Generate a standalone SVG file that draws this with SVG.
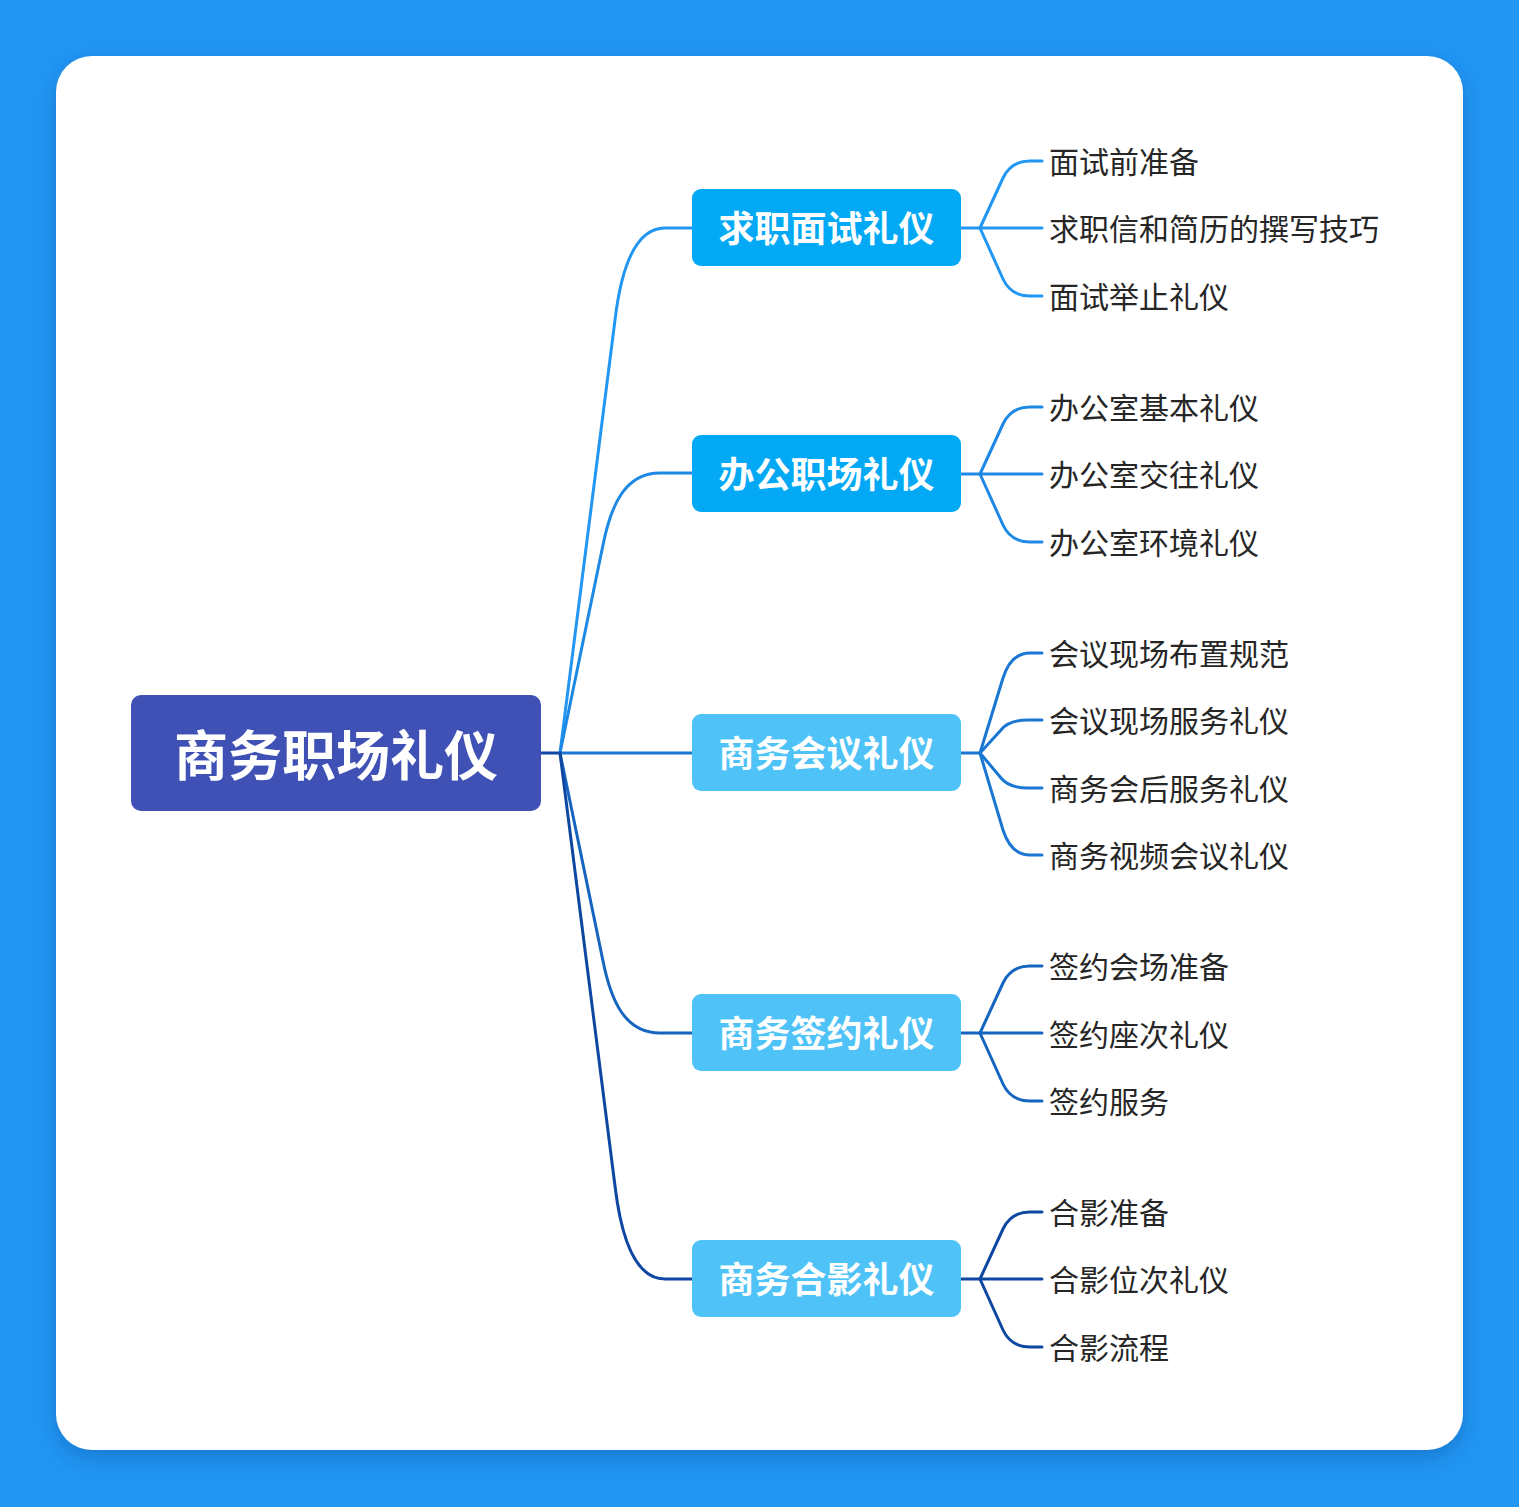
<svg xmlns="http://www.w3.org/2000/svg" width="1519" height="1507" viewBox="0 0 1519 1507">
<defs>
<filter id="sh" x="-5%" y="-5%" width="110%" height="112%">
<feDropShadow dx="0" dy="8" stdDeviation="10" flood-color="#0a3a80" flood-opacity="0.3"/>
</filter>
<style>
.root{fill:#3F51B5}
.b1{fill:#03A9F4}
.b2{fill:#4FC3F7}
.rt{font-family:"Noto Sans CJK SC","Liberation Sans",sans-serif;font-weight:bold;font-size:54px;fill:#fff;text-anchor:middle}
.bt{font-family:"Noto Sans CJK SC","Liberation Sans",sans-serif;font-weight:bold;font-size:36px;fill:#fff;text-anchor:middle}
.lt{font-family:"Noto Sans CJK SC","Liberation Sans",sans-serif;font-size:30px;fill:#262626}
.c{fill:none;stroke-width:3;stroke-linecap:round}
.k1{stroke:#2196F3}.k2{stroke:#1E88E5}.k3{stroke:#1976D2}.k4{stroke:#1565C0}.k5{stroke:#0D47A1}
</style>
</defs>
<rect width="1519" height="1507" fill="#2196F3"/>
<rect x="56" y="56" width="1407" height="1394" rx="36" fill="#fff" filter="url(#sh)"/>
<g id="connectors">
<path class="c k5" d="M541,753 L560,753"/>
<path class="c k1" d="M560,753 L615,320 C620,278 632,228 665,228 L692,228"/>
<path class="c k2" d="M560,753 L603,545 C611,505 625,473 660,473 L692,473"/>
<path class="c k3" d="M560,753 L692,753"/>
<path class="c k4" d="M560,753 L603,961 C611,1001 625,1033 660,1033 L692,1033"/>
<path class="c k5" d="M560,753 L615,1186 C620,1228 632,1279 665,1279 L692,1279"/>
<g class="c k1">
<path d="M961,228 L980,228"/>
<path d="M980,228 L1003,178 Q1011,161 1030,161 L1042,161"/>
<path d="M980,228 L1042,228"/>
<path d="M980,228 L1003,279 Q1011,296 1030,296 L1042,296"/>
</g>
<g class="c k2">
<path d="M961,474 L980,474"/>
<path d="M980,474 L1003,424 Q1011,407 1030,407 L1042,407"/>
<path d="M980,474 L1042,474"/>
<path d="M980,474 L1003,525 Q1011,542 1030,542 L1042,542"/>
</g>
<g class="c k3">
<path d="M961,753 L980,753"/>
<path d="M980,753 L1003,678 Q1011,653 1030,653 L1042,653"/>
<path d="M980,753 L1001,730 Q1009,720 1028,720 L1042,720"/>
<path d="M980,753 L1001,778 Q1009,788 1028,788 L1042,788"/>
<path d="M980,753 L1003,830 Q1011,855 1030,855 L1042,855"/>
</g>
<g class="c k4">
<path d="M961,1033 L980,1033"/>
<path d="M980,1033 L1003,983 Q1011,966 1030,966 L1042,966"/>
<path d="M980,1033 L1042,1033"/>
<path d="M980,1033 L1003,1084 Q1011,1101 1030,1101 L1042,1101"/>
</g>
<g class="c k5">
<path d="M961,1279 L980,1279"/>
<path d="M980,1279 L1003,1229 Q1011,1212 1030,1212 L1042,1212"/>
<path d="M980,1279 L1042,1279"/>
<path d="M980,1279 L1003,1330 Q1011,1347 1030,1347 L1042,1347"/>
</g>
</g>
<g id="root">
<rect class="root" x="131" y="695" width="410" height="116" rx="10"/>
<text class="rt" x="336" y="776">商务职场礼仪</text>
</g>
<g id="n1"><rect class="b1" x="692" y="189" width="269" height="77" rx="9"/><text class="bt" x="826.5" y="242">求职面试礼仪</text></g>
<g id="n2"><rect class="b1" x="692" y="435" width="269" height="77" rx="9"/><text class="bt" x="826.5" y="488">办公职场礼仪</text></g>
<g id="n3"><rect class="b2" x="692" y="714" width="269" height="77" rx="9"/><text class="bt" x="826.5" y="767">商务会议礼仪</text></g>
<g id="n4"><rect class="b2" x="692" y="994" width="269" height="77" rx="9"/><text class="bt" x="826.5" y="1047">商务签约礼仪</text></g>
<g id="n5"><rect class="b2" x="692" y="1240" width="269" height="77" rx="9"/><text class="bt" x="826.5" y="1293">商务合影礼仪</text></g>
<g id="leaves">
<text class="lt" x="1049" y="173">面试前准备</text>
<text class="lt" x="1049" y="240">求职信和简历的撰写技巧</text>
<text class="lt" x="1049" y="308">面试举止礼仪</text>
<text class="lt" x="1049" y="419">办公室基本礼仪</text>
<text class="lt" x="1049" y="486">办公室交往礼仪</text>
<text class="lt" x="1049" y="554">办公室环境礼仪</text>
<text class="lt" x="1049" y="665">会议现场布置规范</text>
<text class="lt" x="1049" y="732">会议现场服务礼仪</text>
<text class="lt" x="1049" y="800">商务会后服务礼仪</text>
<text class="lt" x="1049" y="867">商务视频会议礼仪</text>
<text class="lt" x="1049" y="978">签约会场准备</text>
<text class="lt" x="1049" y="1046">签约座次礼仪</text>
<text class="lt" x="1049" y="1113">签约服务</text>
<text class="lt" x="1049" y="1224">合影准备</text>
<text class="lt" x="1049" y="1291">合影位次礼仪</text>
<text class="lt" x="1049" y="1359">合影流程</text>
</g>
</svg>
